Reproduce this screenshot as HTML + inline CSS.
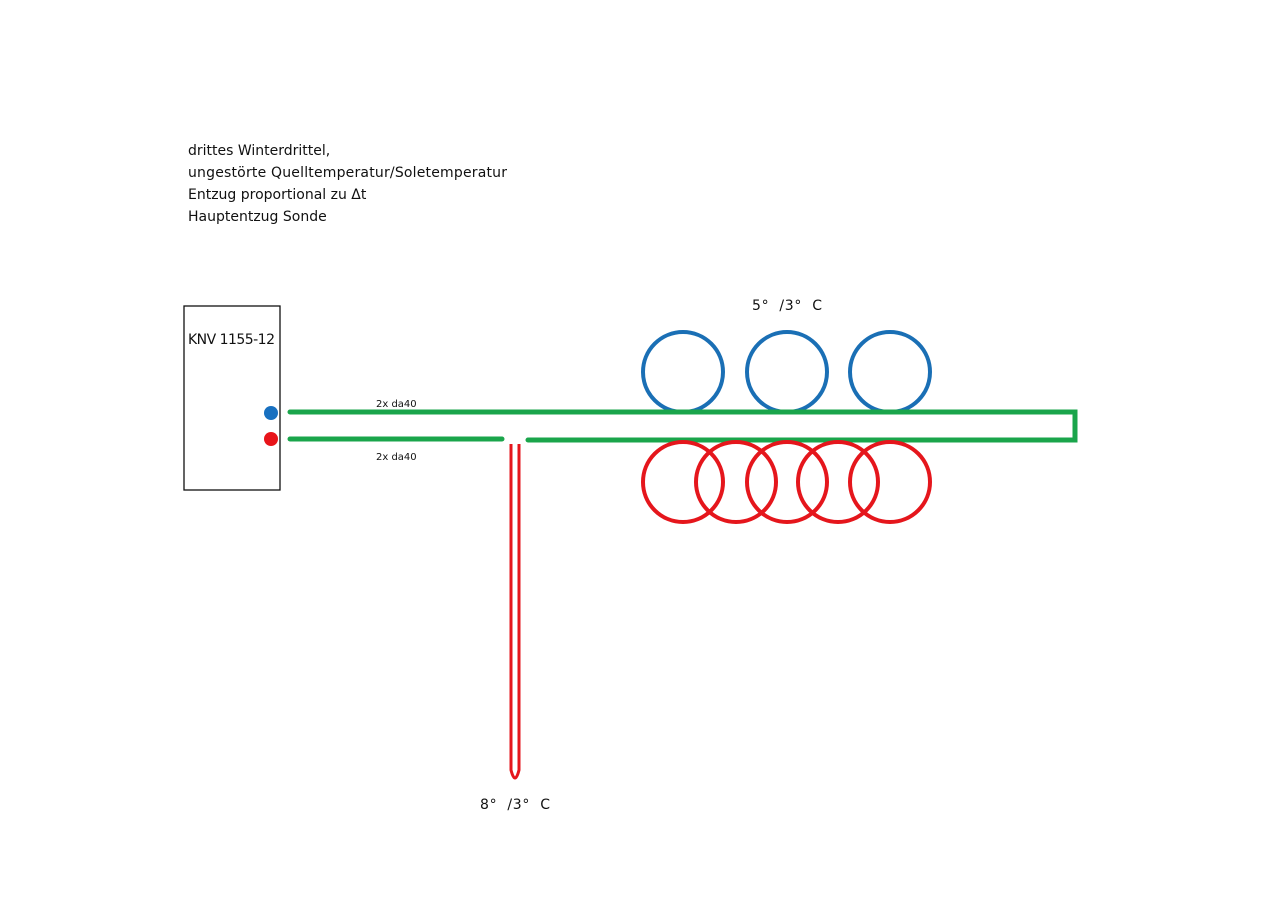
<!DOCTYPE html>
<html><head><meta charset="utf-8"><style>
html,body{margin:0;padding:0;background:#fff;}
svg{display:block}
text{font-family:"DejaVu Sans","Liberation Sans",sans-serif;fill:#111;white-space:pre}
</style></head><body>
<svg width="1280" height="904" viewBox="0 0 1280 904" xmlns="http://www.w3.org/2000/svg">
<rect width="1280" height="904" fill="#fff"/>
<g font-size="14">
<text x="188" y="155">drittes Winterdrittel,</text>
<text x="188" y="177" textLength="319">ungestörte Quelltemperatur/Soletemperatur</text>
<text x="188" y="199">Entzug proportional zu Δt</text>
<text x="188" y="221">Hauptentzug Sonde</text>
</g>
<rect x="184" y="306" width="96" height="184" fill="none" stroke="#111" stroke-width="1.3"/>
<text x="188" y="344" font-size="14" textLength="87">KNV 1155-12</text>
<circle cx="271" cy="413" r="7" fill="#1870c0"/>
<circle cx="271" cy="439" r="7" fill="#e8141a"/>
<text x="376" y="407" font-size="10">2x da40</text>
<text x="376" y="460" font-size="10">2x da40</text>
<g fill="none" stroke="#1a6fb5" stroke-width="4">
<circle cx="683" cy="372" r="40"/><circle cx="787" cy="372" r="40"/><circle cx="890" cy="372" r="40"/>
</g>
<g fill="none" stroke="#1aa54b" stroke-width="5" stroke-linecap="round">
<polyline points="290,412 1075,412 1075,440 528,440"/>
<line x1="290" y1="439" x2="502" y2="439"/>
</g>
<g fill="none" stroke="#e5161c" stroke-width="4">
<circle cx="683" cy="482" r="40"/><circle cx="736" cy="482" r="40"/><circle cx="787" cy="482" r="40"/><circle cx="838" cy="482" r="40"/><circle cx="890" cy="482" r="40"/>
</g>
<path d="M511,444 L511,770 Q515,786 519,770 L519,444" fill="none" stroke="#e5161c" stroke-width="3"/>
<text x="752" y="310" font-size="14" textLength="70">5°  /3°  C</text>
<text x="480" y="809" font-size="14" textLength="70">8°  /3°  C</text>
</svg>
</body></html>
